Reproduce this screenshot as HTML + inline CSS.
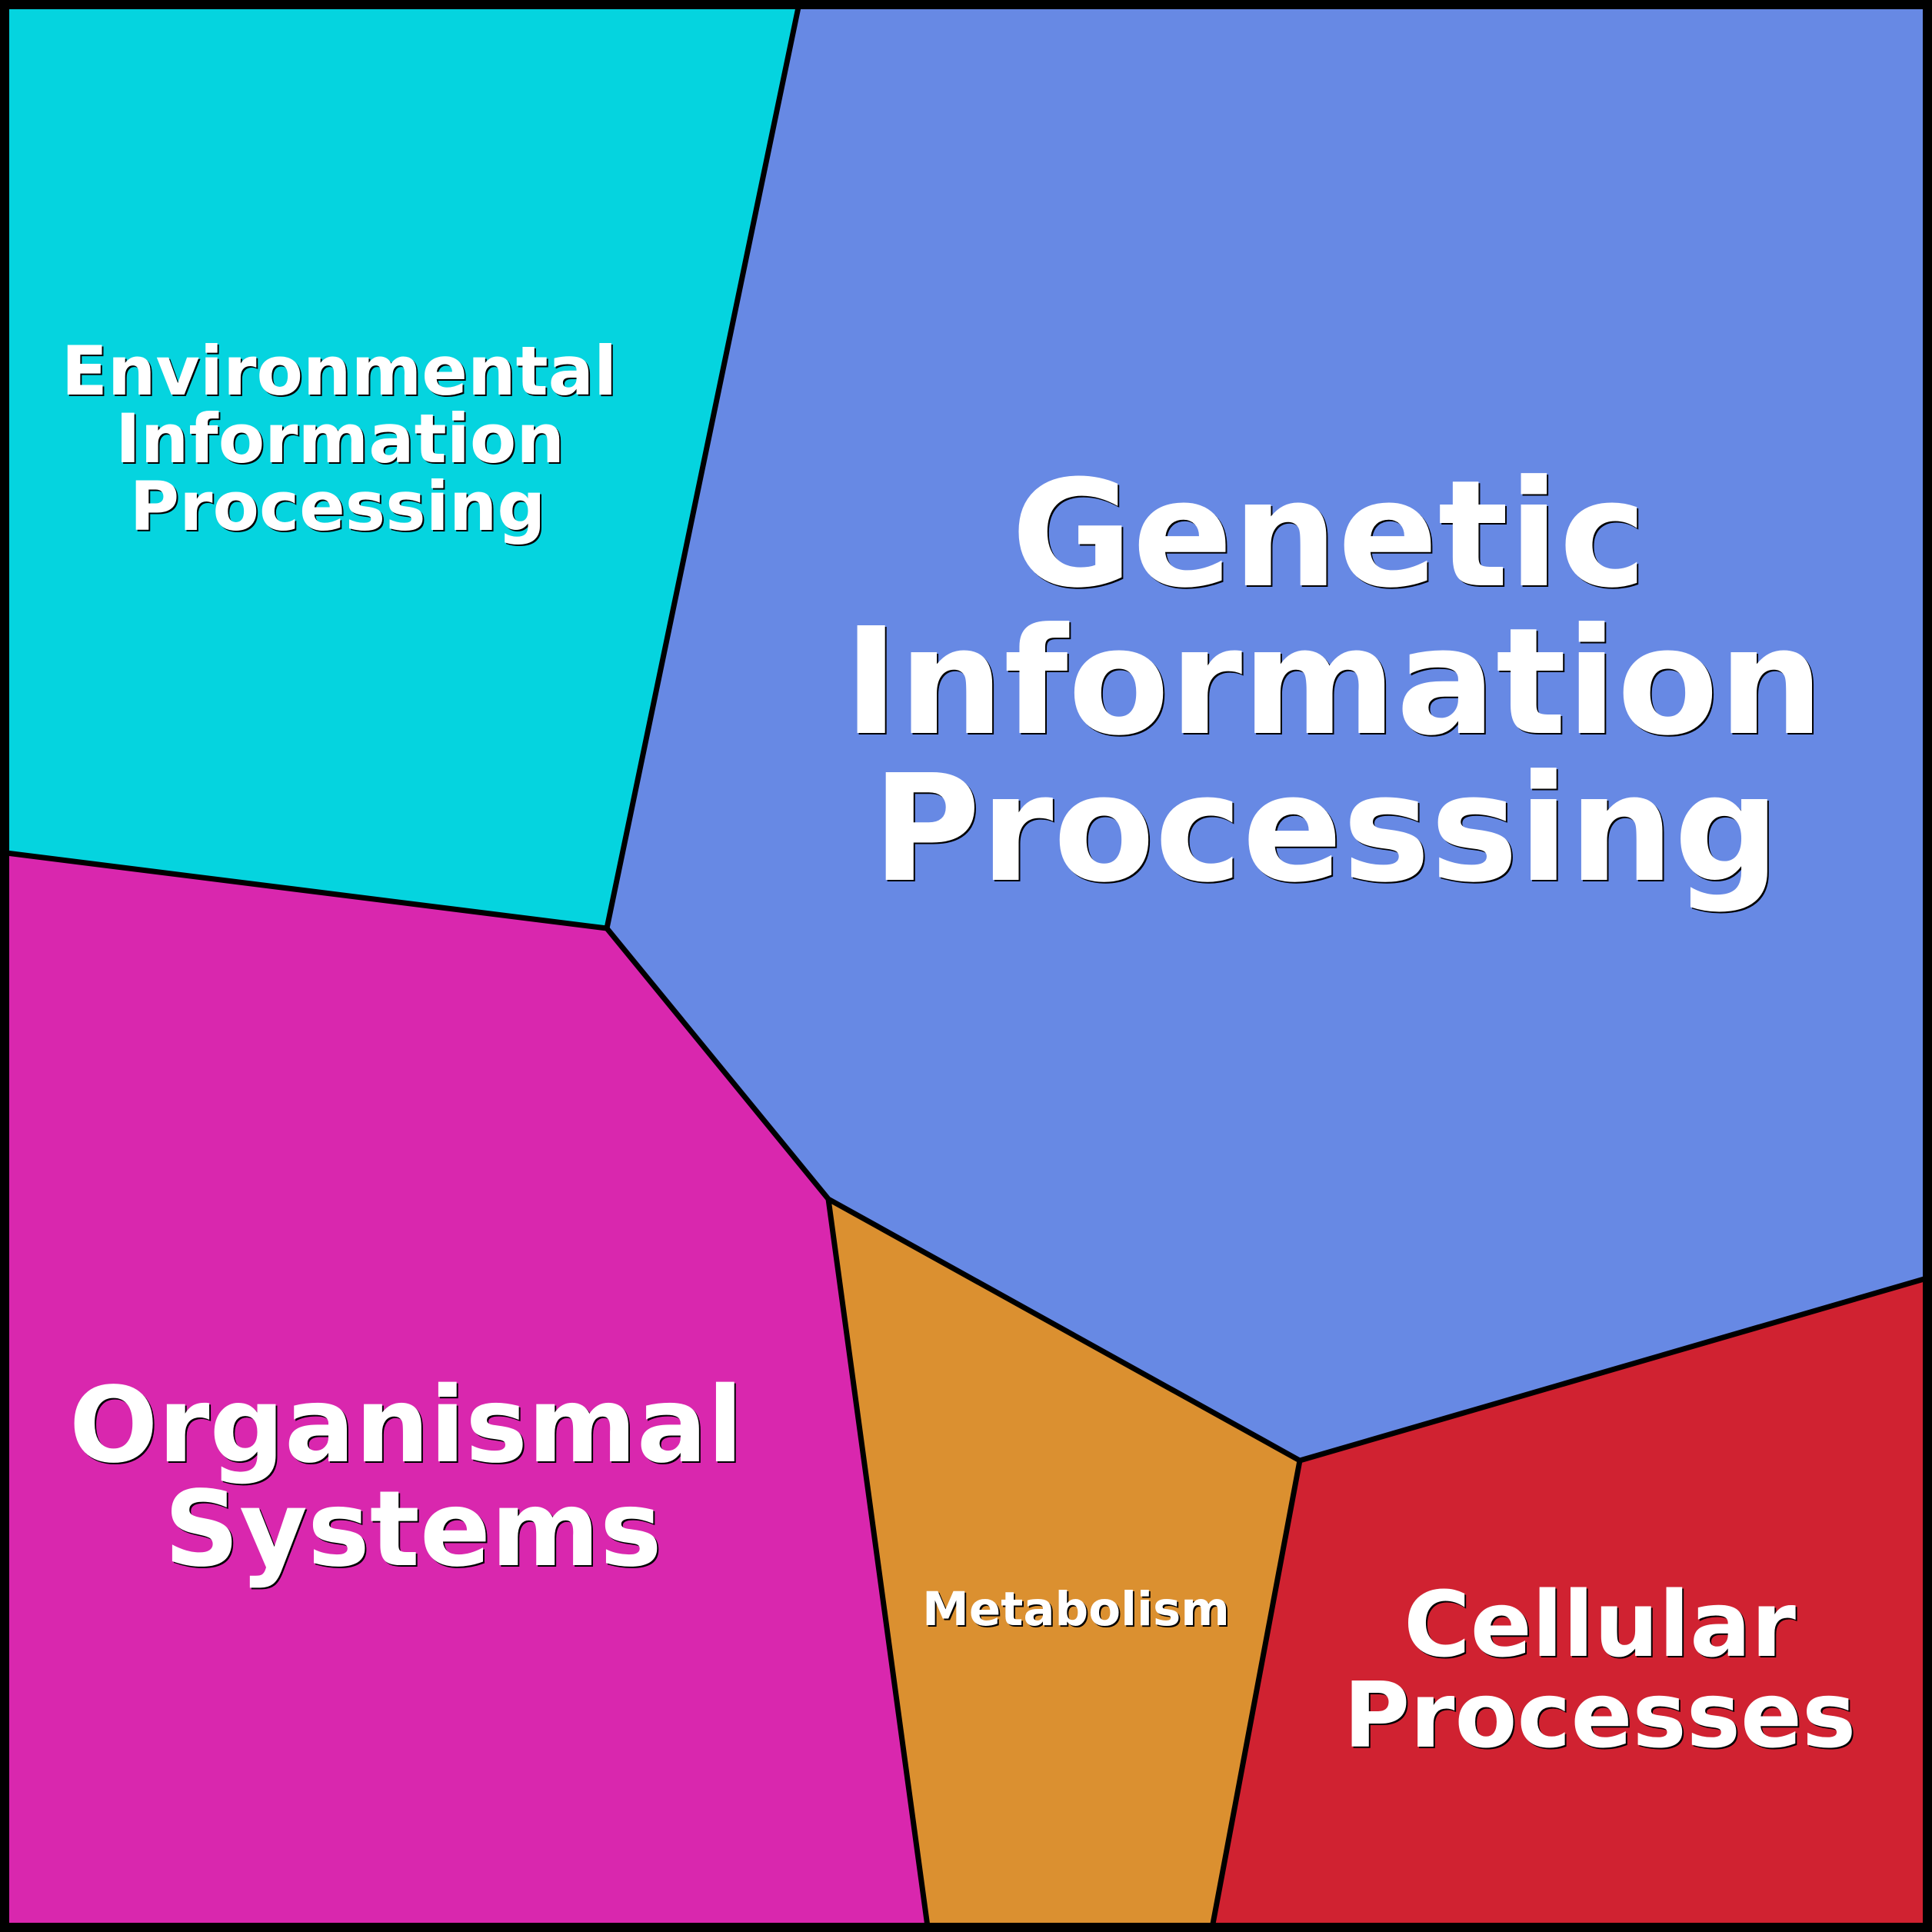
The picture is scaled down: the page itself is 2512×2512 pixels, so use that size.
<!DOCTYPE html>
<html>
<head>
<meta charset="utf-8">
<style>
  html, body { margin: 0; padding: 0; background: #fff; }
  svg { display: block; }
  text { font-family: "DejaVu Sans", "Liberation Sans", sans-serif; font-weight: bold; text-anchor: middle; }
  .sh { fill: #000; }
  .fg { fill: #fff; }
</style>
</head>
<body>
<svg width="2512" height="2512" viewBox="0 0 2512 2512" xmlns="http://www.w3.org/2000/svg">
  <!-- regions -->
  <polygon points="0,0 1040,0 789,1207 0,1108" fill="#05d4df"/>
  <polygon points="1040,0 2512,0 2512,1660 1690,1899 1077,1559 789,1207" fill="#6789e4"/>
  <polygon points="0,1108 789,1207 1077,1559 1207,2512 0,2512" fill="#d927ae"/>
  <polygon points="1077,1559 1690,1899 1575,2512 1207,2512" fill="#db9030"/>
  <polygon points="1690,1899 2512,1660 2512,2512 1575,2512" fill="#d02231"/>

  <!-- borders between regions -->
  <g fill="none" stroke="#000" stroke-width="7" stroke-linejoin="miter">
    <polyline points="1040,0 789,1207 0,1108"/>
    <polyline points="789,1207 1077,1559 1690,1899 2512,1660"/>
    <line x1="1077" y1="1559" x2="1207" y2="2512"/>
    <line x1="1690" y1="1899" x2="1575" y2="2512"/>
  </g>
  <!-- outer frame -->
  <rect x="0" y="0" width="2512" height="2512" fill="none" stroke="#000" stroke-width="24"/>

  <!-- Environmental Information Processing -->
  <g font-size="88">
    <text class="sh" x="443" y="515">Environmental</text>
    <text class="sh" x="444" y="603">Information</text>
    <text class="sh" x="441" y="691">Processing</text>
    <text class="fg" x="441" y="513">Environmental</text>
    <text class="fg" x="442" y="601">Information</text>
    <text class="fg" x="439" y="689">Processing</text>
  </g>

  <!-- Genetic Information Processing -->
  <g font-size="192">
    <text class="sh" x="1730" y="763">Genetic</text>
    <text class="sh" x="1736" y="955">Information</text>
    <text class="sh" x="1726" y="1146">Processing</text>
    <text class="fg" x="1728" y="761">Genetic</text>
    <text class="fg" x="1734" y="953">Information</text>
    <text class="fg" x="1724" y="1144">Processing</text>
  </g>

  <!-- Organismal Systems -->
  <g font-size="136">
    <text class="sh" x="530" y="1902">Organismal</text>
    <text class="sh" x="539" y="2037">Systems</text>
    <text class="fg" x="528" y="1900">Organismal</text>
    <text class="fg" x="537" y="2035">Systems</text>
  </g>

  <!-- Metabolism -->
  <g font-size="61">
    <text class="sh" x="1401" y="2115">Metabolism</text>
    <text class="fg" x="1399" y="2113">Metabolism</text>
  </g>

  <!-- Cellular Processes -->
  <g font-size="118">
    <text class="sh" x="2082" y="2155">Cellular</text>
    <text class="sh" x="2082" y="2273">Processes</text>
    <text class="fg" x="2080" y="2153">Cellular</text>
    <text class="fg" x="2080" y="2271">Processes</text>
  </g>
</svg>
</body>
</html>
